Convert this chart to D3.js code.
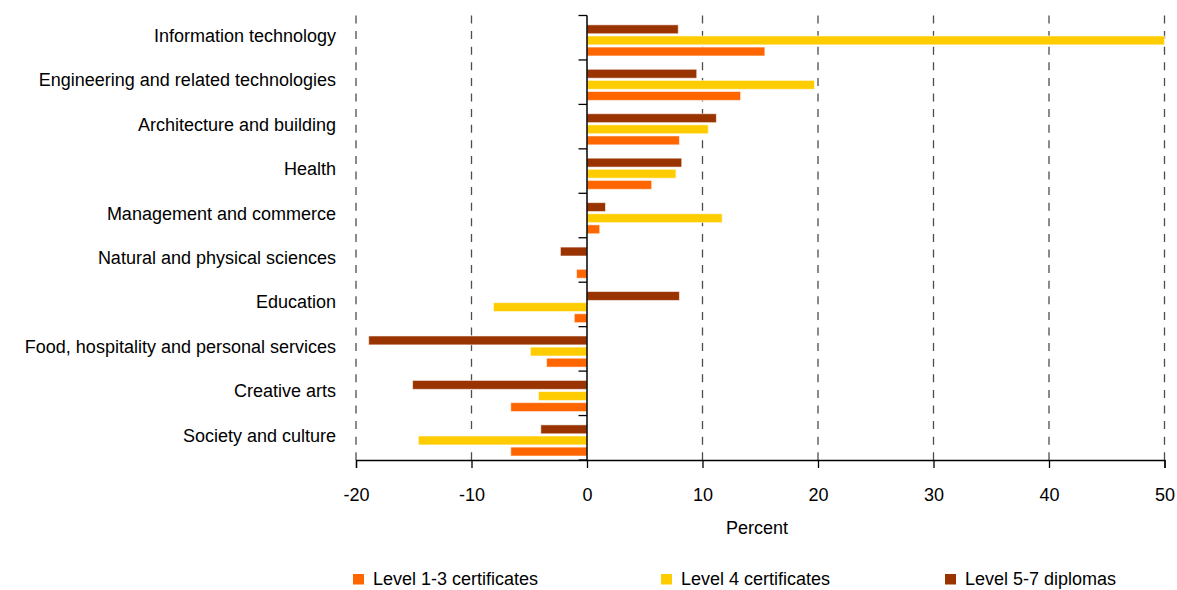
<!DOCTYPE html>
<html>
<head>
<meta charset="utf-8">
<script src="https://cdn.jsdelivr.net/npm/d3@7"></script>
<style>
  html, body { margin: 0; padding: 0; background: #fff; }
  svg { display: block; }
  text { font-family: "Liberation Sans", Arial, sans-serif; fill: #000; }
</style>
</head>
<body>
<svg id="chart" width="1177" height="590"></svg>
<script>
const categories = [
  "Information technology",
  "Engineering and related technologies",
  "Architecture and building",
  "Health",
  "Management and commerce",
  "Natural and physical sciences",
  "Education",
  "Food, hospitality and personal services",
  "Creative arts",
  "Society and culture"
];
const seriesNames = ["Level 5-7 diplomas", "Level 4 certificates", "Level 1-3 certificates"];
const level57 = [7.9, 9.5, 11.2, 8.2, 1.6, -2.3, 8.0, -18.9, -15.1, -4.0];
const level4  = [50.0, 19.7, 10.5, 7.7, 11.7, 0, -8.1, -4.9, -4.2, -14.6];
const level13 = [15.4, 13.3, 8.0, 5.6, 1.1, -0.9, -1.1, -3.5, -6.6, -6.6];
const xTicks = [-20, -10, 0, 10, 20, 30, 40, 50];
const legendOrder = ["Level 1-3 certificates", "Level 4 certificates", "Level 5-7 diplomas"];
const colors = {
  "Level 1-3 certificates": "#FF6600",
  "Level 4 certificates": "#FFCC00",
  "Level 5-7 diplomas": "#993300"
};
const seriesValues = {
  "Level 5-7 diplomas": level57,
  "Level 4 certificates": level4,
  "Level 1-3 certificates": level13
};

const svg = d3.select("#chart");
const plot = { left: 356, right: 1164.5, top: 15.5, bottom: 460 };

const x = d3.scaleLinear().domain([-20, 50]).range([plot.left, plot.right]);
const y = d3.scaleBand().domain(categories).range([plot.top, plot.bottom]).paddingInner(0).paddingOuter(0);
const inner = d3.scaleBand().domain(seriesNames).range([0, y.bandwidth() * 0.70]).paddingInner(0.2).paddingOuter(0);
const groupOffset = y.bandwidth() * 0.21;

// dashed gridlines
svg.append("g").selectAll("line")
  .data(xTicks.filter(d => d !== 0))
  .join("line")
  .attr("x1", d => x(d)).attr("x2", d => x(d))
  .attr("y1", plot.top).attr("y2", plot.bottom)
  .attr("stroke", "#4d4d4d").attr("stroke-width", 1.3)
  .attr("stroke-dasharray", "8,7.6");

// bars
const bars = svg.append("g");
seriesNames.forEach(s => {
  bars.selectAll(null)
    .data(categories.map((c, i) => ({ c, v: seriesValues[s][i] })).filter(d => d.v !== 0))
    .join("rect")
    .attr("x", d => Math.min(x(0), x(d.v)))
    .attr("width", d => Math.abs(x(d.v) - x(0)))
    .attr("y", d => y(d.c) + groupOffset + inner(s))
    .attr("height", inner.bandwidth())
    .attr("fill", colors[s])
    .attr("stroke", "rgba(255,255,255,0.55)")
    .attr("stroke-width", 1);
});

// x axis
const xAxis = d3.axisBottom(x).tickValues(xTicks).tickSize(8).tickPadding(20).tickFormat(d3.format("d"));
const gx = svg.append("g").attr("transform", `translate(0,${plot.bottom})`).call(xAxis);
gx.select(".domain").attr("stroke", "#000").attr("stroke-width", 1.3);
gx.selectAll(".tick line").attr("stroke", "#000").attr("stroke-width", 1.3);
gx.selectAll(".tick text").attr("font-size", 18).attr("font-family", "Liberation Sans, Arial, sans-serif").attr("fill", "#000").text(d => d < 0 ? "-" + Math.abs(d) : d);

// y axis line at zero with ticks at band boundaries
const yAxisG = svg.append("g");
yAxisG.append("line")
  .attr("x1", x(0)).attr("x2", x(0))
  .attr("y1", plot.top).attr("y2", plot.bottom)
  .attr("stroke", "#000").attr("stroke-width", 1.5);
const boundaries = categories.map(c => y(c)).concat([plot.bottom]);
yAxisG.selectAll("line.tk")
  .data(boundaries)
  .join("line").attr("class", "tk")
  .attr("x1", x(0) - 8.5).attr("x2", x(0))
  .attr("y1", d => d).attr("y2", d => d)
  .attr("stroke", "#000").attr("stroke-width", 1.3);

// category labels
svg.append("g").selectAll("text")
  .data(categories)
  .join("text")
  .attr("x", 336)
  .attr("y", d => y(d) + y.bandwidth() / 2 + 4)
  .attr("text-anchor", "end")
  .attr("font-size", 18)
  .text(d => d);

// axis title
svg.append("text")
  .attr("x", 757).attr("y", 534)
  .attr("text-anchor", "middle")
  .attr("font-size", 18)
  .text("Percent");

// legend
const legendX = [353, 661, 945];
const lg = svg.append("g");
legendOrder.forEach((s, i) => {
  lg.append("rect")
    .attr("x", legendX[i]).attr("y", 574)
    .attr("width", 11).attr("height", 10.5)
    .attr("fill", colors[s]);
  lg.append("text")
    .attr("x", legendX[i] + 20).attr("y", 585)
    .attr("font-size", 18)
    .text(s);
});
</script>
</body>
</html>
